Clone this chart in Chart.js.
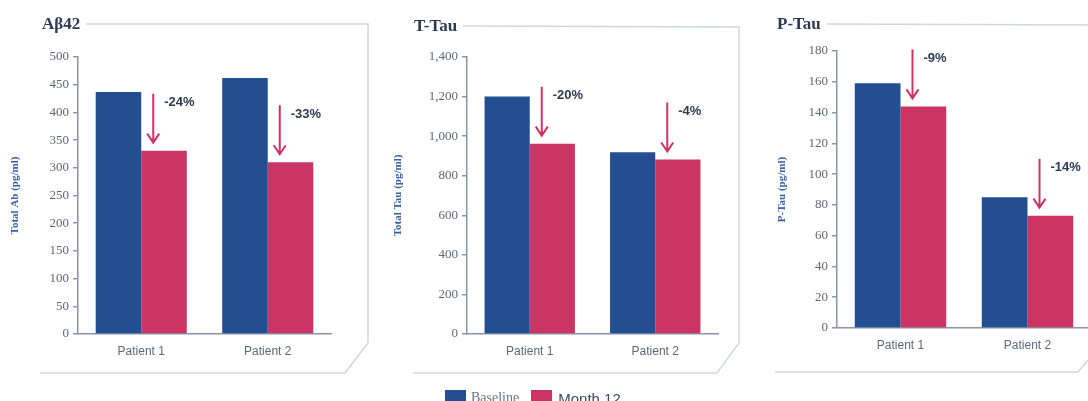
<!DOCTYPE html>
<html>
<head>
<meta charset="utf-8">
<script src="https://cdn.jsdelivr.net/npm/chart.js@4"></script>
<style>
  html, body { margin: 0; padding: 0; background: #fff; }
  body { width: 1088px; height: 401px; position: relative; overflow: hidden; }
  canvas { position: absolute; top: 0; }
  #legend { position: absolute; left: 445px; top: 388px; height: 20px; display: flex; align-items: center; z-index: 2; }
  .sw { width: 21px; height: 16px; display: inline-block; }
  .lbl { font-size: 14px; margin: 0 12px 0 5px; }
</style>
</head>
<body>
<canvas id="c1" width="370" height="401" style="left:0px"></canvas>
<canvas id="c2" width="370" height="401" style="left:370px"></canvas>
<canvas id="c3" width="360" height="401" style="left:740px"></canvas>
<div id="legend">
  <span class="sw" style="background:#234f92"></span><span class="lbl" style="font-family:'Liberation Serif';color:#6a7585">Baseline</span>
  <span class="sw" style="background:#cb3464"></span><span class="lbl" style="font-family:'Liberation Sans';color:#3d4a60;font-size:15px;margin-left:6px">Month 12</span>
</div>
<script>
// data
const categories = ["Patient 1", "Patient 2"];
const seriesNames = ["Baseline", "Month 12"];

const abBaseline = [437, 462];
const abMonth12 = [331, 310];
const abChange = ["-24%", "-33%"];

const tTauBaseline = [1200, 918];
const tTauMonth12 = [962, 882];
const tTauChange = ["-20%", "-4%"];

const pTauBaseline = [159, 85];
const pTauMonth12 = [144, 73];
const pTauChange = ["-9%", "-14%"];

const blue = "#234f92";
const pink = "#cb3464";
const axisColor = "#8796ab";
const tickColor = "#5d6878";
const frameColor = "#cfd8df";

// draws the panel title, the bevelled frame and the arrows with % labels
const panelPlugin = {
  id: "panel",
  beforeDraw(chart, args, opts) {
    const ctx = chart.ctx;
    ctx.save();
    ctx.font = "bold 17px 'Liberation Serif'";
    ctx.fillStyle = "#2d3a52";
    ctx.textBaseline = "middle";
    ctx.fillText(opts.title, opts.titleX, opts.titleY);
    const tw = ctx.measureText(opts.title).width;
    ctx.strokeStyle = frameColor;
    ctx.lineWidth = 1.5;
    ctx.beginPath();
    const f = opts.frame;
    ctx.moveTo(opts.titleX + tw + 6, opts.titleY - 1);
    for (const p of f) ctx.lineTo(p[0], p[1]);
    ctx.stroke();
    ctx.restore();
  },
  afterDatasetsDraw(chart, args, opts) {
    const ctx = chart.ctx;
    const meta = chart.getDatasetMeta(1);
    ctx.save();
    meta.data.forEach((bar, i) => {
      const x = bar.x - bar.width / 2 + 12;
      const bottom = bar.y - 8;
      const top = bottom - 49;
      ctx.strokeStyle = pink;
      ctx.lineWidth = 2;
      ctx.beginPath();
      ctx.moveTo(x, top);
      ctx.lineTo(x, bottom);
      ctx.moveTo(x - 6, bottom - 9);
      ctx.lineTo(x, bottom);
      ctx.lineTo(x + 6, bottom - 9);
      ctx.stroke();
      ctx.font = "bold 13px 'Liberation Sans'";
      ctx.fillStyle = "#2d3a52";
      ctx.textBaseline = "middle";
      ctx.fillText(opts.labels[i], x + 11, top + 9);
    });
    ctx.restore();
  }
};

function makeChart(id, p) {
  return new Chart(document.getElementById(id), {
    type: "bar",
    data: {
      labels: categories,
      datasets: [
        { label: seriesNames[0], data: p.base, backgroundColor: blue },
        { label: seriesNames[1], data: p.month, backgroundColor: pink }
      ]
    },
    options: {
      responsive: false,
      animation: false,
      layout: { padding: { left: p.padLeft, top: p.top, right: p.padRight, bottom: 0 } },
      datasets: { bar: { barPercentage: 1, categoryPercentage: 0.72 } },
      plugins: {
        legend: { display: false },
        tooltip: { enabled: false },
        panel: { title: p.title, titleX: p.titleX, titleY: p.titleY, frame: p.frame, labels: p.change }
      },
      scales: {
        x: {
          grid: { display: false, drawTicks: false },
          border: { display: true, color: axisColor, width: 1.5 },
          ticks: { color: tickColor, font: { family: "'Liberation Sans'", size: 12 }, padding: 10 },
          afterFit(s) { s.height = 401 - p.bottom; }
        },
        y: {
          min: 0, max: p.max,
          grid: { drawOnChartArea: false, tickLength: 5, color: axisColor, lineWidth: 1.5 },
          border: { display: true, color: axisColor, width: 1.5 },
          ticks: {
            stepSize: p.step, color: tickColor, padding: 4,
            font: { family: "'Liberation Serif'", size: 13 },
            callback: v => v.toLocaleString("en-US")
          },
          title: {
            display: true, text: p.yTitle, color: "#3b62a6",
            font: { family: "'Liberation Serif'", size: 11, weight: "bold" },
            padding: { top: 9, bottom: 0 }
          },
          afterFit(s) { s.width = p.axisWidth; }
        }
      }
    },
    plugins: [panelPlugin]
  });
}

makeChart("c1", {
  base: abBaseline, month: abMonth12, change: abChange,
  max: 500, step: 50, yTitle: "Total Ab (pg/ml)",
  padLeft: 0, axisWidth: 78, padRight: 39, top: 57, bottom: 334,
  title: "A\u03b242", titleX: 42, titleY: 25,
  frame: [[368, 24], [368, 343], [345, 373], [40, 373]]
});

makeChart("c2", {
  base: tTauBaseline, month: tTauMonth12, change: tTauChange,
  max: 1400, step: 200, yTitle: "Total Tau (pg/ml)",
  padLeft: 13, axisWidth: 84, padRight: 22, top: 57, bottom: 334,
  title: "T-Tau", titleX: 44, titleY: 27,
  frame: [[369, 27], [369, 343], [347, 373], [43, 373]]
});

makeChart("c3", {
  base: pTauBaseline, month: pTauMonth12, change: pTauChange,
  max: 180, step: 20, yTitle: "P-Tau (pg/ml)",
  padLeft: 27, axisWidth: 70, padRight: 9, top: 51, bottom: 328,
  title: "P-Tau", titleX: 37, titleY: 25,
  frame: [[380, 25]]
});

// bottom edge of the third frame
(function () {
  const c = document.getElementById("c3").getContext("2d");
  c.strokeStyle = frameColor;
  c.lineWidth = 1.5;
  c.beginPath();
  c.moveTo(35, 372);
  c.lineTo(338, 372);
  c.lineTo(348, 360);
  c.stroke();
})();
</script>
</body>
</html>
